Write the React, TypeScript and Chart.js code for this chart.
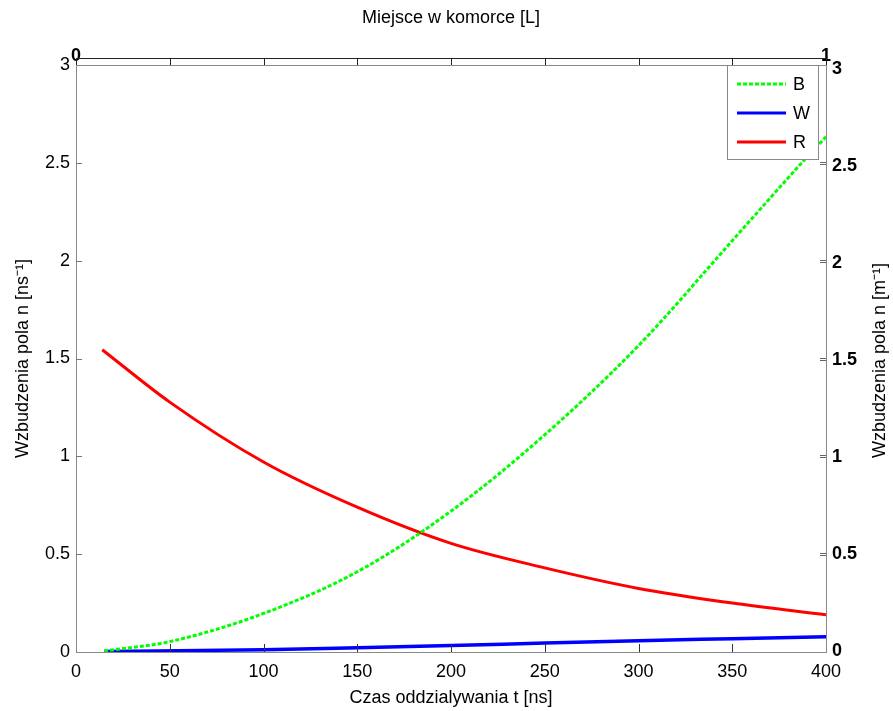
import React, { useEffect, useRef } from 'react';
import { Chart, registerables } from 'chart.js';

Chart.register(...registerables);

const FONT = '"Liberation Sans", Arial, Helvetica, sans-serif';

// Series B (green dotted)
const timeB = [15, 50, 100, 150, 200, 250, 300, 350, 388, 400];
const valuesB = [0.005, 0.053, 0.197, 0.41, 0.72, 1.11, 1.566, 2.102, 2.51, 2.633];
// Series W (blue)
const timeW = [15, 100, 150, 200, 250, 300, 350, 400];
const valuesW = [0.002, 0.012, 0.022, 0.033, 0.046, 0.058, 0.068, 0.078];
// Series R (red)
const timeR = [14, 50, 100, 150, 200, 250, 300, 350, 400];
const valuesR = [1.545, 1.277, 0.971, 0.74, 0.555, 0.43, 0.325, 0.25, 0.19];

const seriesLabels = ['B', 'W', 'R'];
const xTickValues = [0, 50, 100, 150, 200, 250, 300, 350, 400];
const yTickValues = [0, 0.5, 1, 1.5, 2, 2.5, 3];
const topTickValues = [0, 0.125, 0.25, 0.375, 0.5, 0.625, 0.75, 0.875, 1];
const topTickLabels = ['0', '', '', '', '', '', '', '', '1'];

const xTitle = 'Czas oddzialywania t [ns]';
const yLeftTitle = 'Wzbudzenia pola n [ns\u207B\u00B9]';
const yRightTitle = 'Wzbudzenia pola n [m\u207B\u00B9]';
const topTitle = 'Miejsce w komorce [L]';

const toPoints = (xs: number[], ys: number[]) => xs.map((x, i) => ({ x, y: ys[i] }));

const decorPlugin = {
  id: 'decor',
  afterDatasetsDraw(chart: any) {
    const { ctx, chartArea } = chart;
    const { left, right, top, bottom } = chartArea;
    const sx = chart.scales.x;
    const sy = chart.scales.y;
    const st = chart.scales.xTop;
    ctx.save();
    ctx.lineWidth = 1;
    // bottom inward ticks
    ctx.strokeStyle = '#333';
    xTickValues.forEach((v) => {
      const px = Math.round(sx.getPixelForValue(v)) + 0.5;
      if (v === 0 || v === 400) return;
      ctx.beginPath();
      ctx.moveTo(px, bottom);
      ctx.lineTo(px, bottom - 8);
      ctx.stroke();
    });
    // left inward ticks
    ctx.strokeStyle = '#777';
    yTickValues.forEach((v) => {
      const py = Math.round(sy.getPixelForValue(v)) + 0.5;
      if (v === 0 || v === 3) return;
      ctx.beginPath();
      ctx.moveTo(left, py);
      ctx.lineTo(left + 6, py);
      ctx.stroke();
    });
    // right inward double ticks
    ctx.strokeStyle = '#666';
    yTickValues.forEach((v) => {
      const py = Math.round(sy.getPixelForValue(v)) + 0.5;
      if (v === 0 || v === 3) return;
      [-1, 1].forEach((d) => {
        ctx.beginPath();
        ctx.moveTo(right - 6, py + d);
        ctx.lineTo(right, py + d);
        ctx.stroke();
      });
    });
    // top (secondary) axis line and ticks
    const ty = top - 6.5;
    ctx.strokeStyle = '#222';
    ctx.beginPath();
    ctx.moveTo(left, ty);
    ctx.lineTo(right, ty);
    ctx.stroke();
    topTickValues.forEach((v) => {
      const px = Math.round(st.getPixelForValue(v)) + 0.5;
      ctx.beginPath();
      ctx.moveTo(px, ty);
      ctx.lineTo(px, top);
      ctx.stroke();
    });
    ctx.restore();
  },
  afterDraw(chart: any) {
    const { ctx, chartArea } = chart;
    const { top, bottom } = chartArea;
    ctx.save();
    // right axis title, rotated to read bottom-to-top
    ctx.fillStyle = '#000';
    ctx.font = `18px ${FONT}`;
    ctx.textAlign = 'center';
    ctx.textBaseline = 'middle';
    ctx.translate(880, (top + bottom) / 2 + 2);
    ctx.rotate(-Math.PI / 2);
    ctx.fillText(yRightTitle, 0, 0);
    ctx.restore();

    // legend box
    ctx.save();
    const bx = 727.5;
    const by = top + 0.5;
    const bw = 91;
    const bh = 94;
    ctx.fillStyle = '#fff';
    ctx.fillRect(bx, by, bw, bh);
    ctx.strokeStyle = '#888';
    ctx.lineWidth = 1;
    ctx.strokeRect(bx, by, bw, bh);
    const rows = [84, 113, 142];
    chart.data.datasets.forEach((ds: any, i: number) => {
      const y = rows[i];
      ctx.beginPath();
      ctx.strokeStyle = ds.borderColor;
      ctx.lineWidth = 3;
      ctx.setLineDash(ds.borderDash || []);
      ctx.moveTo(737, y);
      ctx.lineTo(786, y);
      ctx.stroke();
      ctx.setLineDash([]);
      ctx.fillStyle = '#000';
      ctx.font = `18px ${FONT}`;
      ctx.textAlign = 'left';
      ctx.textBaseline = 'middle';
      ctx.fillText(ds.label, 793, y + 1);
    });
    ctx.restore();
  },
};

export default function App() {
  const canvasRef = useRef<HTMLCanvasElement | null>(null);

  useEffect(() => {
    document.body.style.margin = '0';
    const canvas = canvasRef.current;
    if (!canvas) return;
    Chart.defaults.color = '#000';
    const chart = new Chart(canvas, {
      type: 'line',
      data: {
        datasets: [
          {
            label: seriesLabels[0],
            data: toPoints(timeB, valuesB),
            borderColor: '#00ff00',
            borderWidth: 3,
            borderDash: [4, 2],
            borderCapStyle: 'butt',
            pointRadius: 0,
            cubicInterpolationMode: 'monotone',
            xAxisID: 'x',
            yAxisID: 'y',
          },
          {
            label: seriesLabels[1],
            data: toPoints(timeW, valuesW),
            borderColor: '#0000ff',
            borderWidth: 3.5,
            pointRadius: 0,
            cubicInterpolationMode: 'monotone',
            xAxisID: 'x',
            yAxisID: 'y',
          },
          {
            label: seriesLabels[2],
            data: toPoints(timeR, valuesR),
            borderColor: '#ff0000',
            borderWidth: 3,
            pointRadius: 0,
            cubicInterpolationMode: 'monotone',
            xAxisID: 'x',
            yAxisID: 'y',
          },
        ],
      },
      options: {
        responsive: false,
        animation: false,
        events: [],
        layout: { padding: 0 },
        plugins: {
          legend: { display: false },
          tooltip: { enabled: false },
          title: { display: false },
        },
        scales: {
          x: {
            type: 'linear',
            position: 'bottom',
            min: 0,
            max: 400,
            afterBuildTicks: (s: any) => {
              s.ticks = xTickValues.map((v) => ({ value: v }));
            },
            ticks: {
              autoSkip: false,
              maxRotation: 0,
              padding: 9,
              font: { family: FONT, size: 18 },
              color: '#000',
              callback: (v: any) => String(v),
            },
            grid: { display: false, drawTicks: false },
            border: { display: true, color: '#888', width: 1 },
            title: {
              display: true,
              text: xTitle,
              font: { family: FONT, size: 18 },
              color: '#000',
              padding: { top: 0, bottom: 2 },
            },
            afterFit: (s: any) => {
              s.height = 59;
            },
          },
          xTop: {
            type: 'linear',
            position: 'top',
            min: 0,
            max: 1,
            afterBuildTicks: (s: any) => {
              s.ticks = topTickValues.map((v) => ({ value: v }));
            },
            ticks: {
              autoSkip: false,
              maxRotation: 0,
              padding: -2,
              font: { family: FONT, size: 18, weight: 'bold' },
              color: '#000',
              callback: (_v: any, i: number) => topTickLabels[i],
            },
            grid: { display: false, drawTicks: false },
            border: { display: true, color: '#888', width: 1 },
            title: {
              display: true,
              text: topTitle,
              font: { family: FONT, size: 18 },
              color: '#000',
              padding: { top: 7, bottom: 0 },
            },
            afterFit: (s: any) => {
              s.height = 65;
            },
          },
          y: {
            type: 'linear',
            position: 'left',
            min: 0,
            max: 3,
            afterBuildTicks: (s: any) => {
              s.ticks = yTickValues.map((v) => ({ value: v }));
            },
            ticks: {
              autoSkip: false,
              padding: 6,
              font: { family: FONT, size: 18 },
              color: '#000',
              callback: (v: any) => String(v),
            },
            grid: { display: false, drawTicks: false },
            border: { display: true, color: '#888', width: 1 },
            title: {
              display: true,
              text: yLeftTitle,
              font: { family: FONT, size: 18 },
              color: '#000',
              padding: { top: 12, bottom: 0 },
            },
            afterFit: (s: any) => {
              s.width = 76;
            },
          },
          y2: {
            type: 'linear',
            position: 'right',
            min: -0.0036,
            max: 3.02,
            afterBuildTicks: (s: any) => {
              s.ticks = yTickValues.map((v) => ({ value: v }));
            },
            ticks: {
              autoSkip: false,
              padding: 6,
              font: { family: FONT, size: 18, weight: 'bold' },
              color: '#000',
              callback: (v: any) => String(v),
            },
            grid: { display: false, drawTicks: false },
            border: { display: true, color: '#888', width: 1 },
            afterFit: (s: any) => {
              s.width = 67;
            },
          },
        },
      } as any,
      plugins: [decorPlugin],
    });
    return () => {
      chart.destroy();
    };
  }, []);

  return (
    <div style={{ position: 'absolute', left: 0, top: 0, width: 893, height: 711, background: '#fff' }}>
      <canvas ref={canvasRef} width={893} height={711} style={{ display: 'block' }} />
    </div>
  );
}
